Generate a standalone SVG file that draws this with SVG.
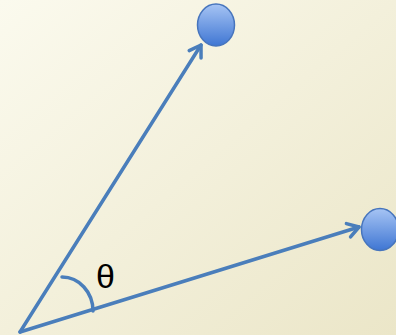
<svg xmlns="http://www.w3.org/2000/svg" width="396" height="335" viewBox="0 0 396 335">
<defs>
<linearGradient id="bg" x1="0" y1="0" x2="1" y2="1">
<stop offset="0" stop-color="#fbfaee"/>
<stop offset="1" stop-color="#ebe6c8"/>
</linearGradient>
<linearGradient id="ball" x1="0" y1="0" x2="0" y2="1">
<stop offset="0" stop-color="#a6c4f4"/>
<stop offset="1" stop-color="#3f76d3"/>
</linearGradient>
<marker id="arr" markerUnits="userSpaceOnUse" markerWidth="30" markerHeight="30" refX="0" refY="0" viewBox="-15 -15 30 30" orient="auto" overflow="visible">
<path d="M-11,-7 L0,0 L-11,7" fill="none" stroke="#4a7ebb" stroke-width="3.5" stroke-linecap="round" stroke-linejoin="round"/>
</marker>
<style>
.ln{stroke:#4a7ebb;stroke-width:3.5;fill:none;stroke-linecap:round}
.node{fill:url(#ball);stroke:#4775bd;stroke-width:1.5}
</style>
</defs>
<rect width="396" height="335" fill="url(#bg)"/>
<g id="connectors">
<path class="ln" d="M20,332 L201,45" marker-end="url(#arr)"/>
<path class="ln" d="M20,332 L359,227" marker-end="url(#arr)"/>
<path class="ln" d="M62,277 A31 34 0 0 1 93 311"/>
</g>
<g id="node1"><ellipse class="node" cx="216" cy="25" rx="18.5" ry="21"/></g>
<g id="node2"><ellipse class="node" cx="380" cy="229.5" rx="18.5" ry="21"/></g>
<g id="label"><text x="96" y="288" font-family="Liberation Sans, Arial, sans-serif" font-size="34" fill="#000">θ</text></g>
</svg>
